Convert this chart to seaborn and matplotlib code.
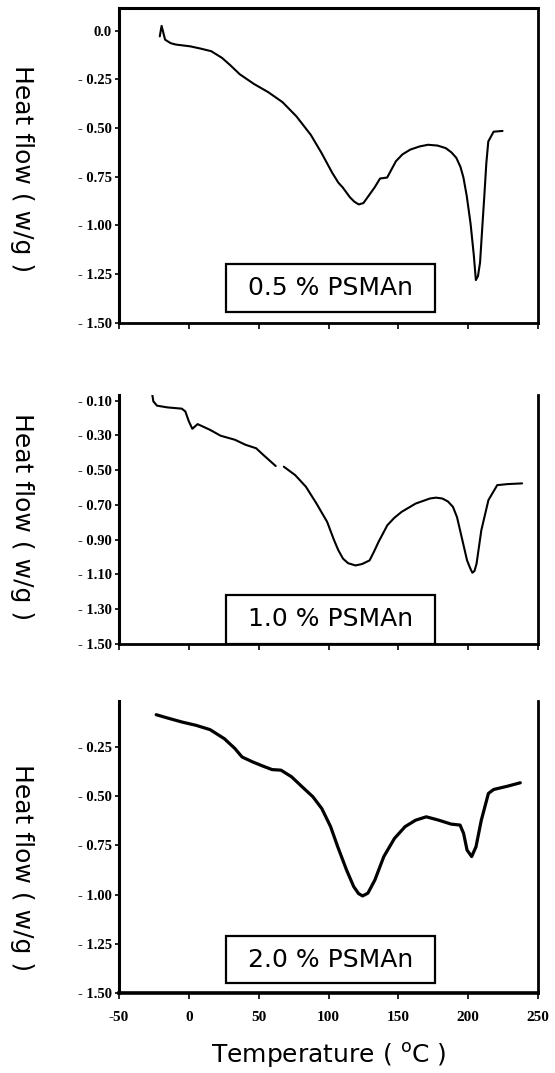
import numpy as np
import pandas as pd
import matplotlib
matplotlib.use("Agg")
import matplotlib.pyplot as plt
from matplotlib.patches import Rectangle
import seaborn as sns

# ---------------- data ----------------
t05 = [-20.8, -19.5, -17.0, -13.0, -9.3, 0.9, 8.0, 16.0, 23.7, 30.0, 36.4, 46.6, 56.8, 67.0, 77.0,
       87.3, 95.0, 102.6, 107.0, 110.2, 115.3, 118.5, 121.6, 125.0, 128.0, 133.0, 136.9, 142.0,
       148.3, 153.0, 158.5, 165.0, 171.2, 178.0, 183.9, 188.0, 191.5, 194.5, 196.6, 199.0, 201.7,
       204.0, 205.5, 207.0, 208.5, 210.0, 211.5, 213.0, 214.4, 218.2, 224.6]
h05 = [-0.03, 0.024, -0.047, -0.065, -0.072, -0.081, -0.092, -0.106, -0.14, -0.18, -0.224,
       -0.274, -0.316, -0.367, -0.44, -0.535, -0.628, -0.729, -0.78, -0.805, -0.855, -0.878,
       -0.892, -0.885, -0.855, -0.805, -0.759, -0.754, -0.67, -0.635, -0.611, -0.595, -0.586,
       -0.59, -0.603, -0.625, -0.653, -0.7, -0.754, -0.85, -0.99, -1.15, -1.28, -1.26, -1.19,
       -1.02, -0.855, -0.68, -0.569, -0.519, -0.515]

t10_a = [-26.1, -25.4, -22.8, -15.2, -5.1, -2.5, 0.0, 2.5, 6.3, 15.2, 22.8, 33.0, 40.6, 48.2,
         53.3, 62.2]
h10_a = [-0.069, -0.104, -0.129, -0.139, -0.146, -0.162, -0.219, -0.262, -0.235, -0.268,
         -0.302, -0.325, -0.354, -0.374, -0.412, -0.476]
t10_b = [68.0, 76.1, 83.8, 91.4, 99.0, 104.0, 107.0, 110.4, 114.0, 119.3, 124.0, 129.4, 132.5,
         135.8, 142.1, 147.0, 152.3, 162.4, 172.6, 177.0, 181.5, 185.5, 189.1, 192.0, 194.2,
         199.2, 201.5, 203.0, 204.5, 206.0, 209.4, 214.5, 220.8, 228.4, 238.6]
h10_b = [-0.48, -0.528, -0.595, -0.692, -0.797, -0.903, -0.96, -1.009, -1.035, -1.048, -1.04,
         -1.019, -0.97, -0.913, -0.817, -0.775, -0.74, -0.692, -0.663, -0.658, -0.663, -0.68,
         -0.711, -0.77, -0.846, -1.019, -1.065, -1.09, -1.08, -1.038, -0.846, -0.672, -0.586,
         -0.58, -0.576]

t20 = [-23.4, -15.2, -5.1, 5.1, 15.2, 25.4, 33.0, 38.1, 45.7, 53.3, 59.6, 66.0, 73.6, 81.2,
       88.8, 95.2, 101.5, 106.6, 112.9, 118.0, 121.5, 124.4, 128.2, 133.2, 139.6, 147.2, 154.8,
       162.4, 170.0, 178.9, 187.8, 194.2, 196.7, 199.2, 202.5, 205.6, 209.4, 214.5, 218.3,
       228.4, 237.3]
h20 = [-0.086, -0.103, -0.123, -0.14, -0.162, -0.208, -0.258, -0.301, -0.326, -0.348, -0.365,
       -0.368, -0.402, -0.453, -0.503, -0.563, -0.655, -0.757, -0.875, -0.959, -0.995, -1.007,
       -0.993, -0.926, -0.807, -0.715, -0.655, -0.622, -0.605, -0.622, -0.642, -0.647, -0.689,
       -0.774, -0.807, -0.757, -0.622, -0.486, -0.466, -0.449, -0.432]

sample_labels = ["0.5 % PSMAn", "1.0 % PSMAn", "2.0 % PSMAn"]

x_ticks = [-50, 0, 50, 100, 150, 200, 250]
x_tick_labels = ["-50", "0", "50", "100", "150", "200", "250"]

y1_ticks = [0.0, -0.25, -0.50, -0.75, -1.00, -1.25, -1.50]
y1_labels = ["0.0", "- 0.25", "- 0.50", "- 0.75", "- 1.00", "- 1.25", "- 1.50"]
y2_ticks = [-0.10, -0.30, -0.50, -0.70, -0.90, -1.10, -1.30, -1.50]
y2_labels = ["- 0.10", "- 0.30", "- 0.50", "- 0.70", "- 0.90", "- 1.10", "- 1.30", "- 1.50"]
y3_ticks = [-0.25, -0.50, -0.75, -1.00, -1.25, -1.50]
y3_labels = ["- 0.25", "- 0.50", "- 0.75", "- 1.00", "- 1.25", "- 1.50"]

# ---------------- figure ----------------
sns.set_style("ticks")
plt.rcParams["font.family"] = ["DejaVu Sans"]
plt.rcParams["text.color"] = "black"
plt.rcParams["axes.labelcolor"] = "black"

fig = plt.figure(figsize=(5.55, 10.73), dpi=100)
left, width = 0.2144, 0.755
ax1 = fig.add_axes([left, 0.699, width, 0.294])
ax2 = fig.add_axes([left, 0.3998, width, 0.232])
ax3 = fig.add_axes([left, 0.0746, width, 0.272])

df1 = pd.DataFrame({"T": t05, "H": h05, "seg": 0})
df2 = pd.concat([pd.DataFrame({"T": t10_a, "H": h10_a, "seg": 0}),
                 pd.DataFrame({"T": t10_b, "H": h10_b, "seg": 1})], ignore_index=True)
df3 = pd.DataFrame({"T": t20, "H": h20, "seg": 0})

tick_font = dict(family="Liberation Serif", weight="bold", size=10.5)

panels = [
    (ax1, df1, (-1.5, 0.118), y1_ticks, y1_labels, sample_labels[0], 1.5, (0.035, 0.187), 0.11, 0.49),
    (ax2, df2, (-1.5, -0.068), y2_ticks, y2_labels, sample_labels[1], 1.5, (0.0, 0.197), 0.10, 0.51),
    (ax3, df3, (-1.5, -0.017), y3_ticks, y3_labels, sample_labels[2], 2.3, (0.034, 0.194), 0.114, 0.428),
]

for i, (ax, df, ylim, yt, ytl, lab, lw, (by0, by1), ty, ly) in enumerate(panels):
    sns.lineplot(data=df, x="T", y="H", units="seg", estimator=None, sort=False,
                 color="black", linewidth=lw, ax=ax)
    ax.set_xlim(-50, 250)
    ax.set_ylim(*ylim)
    ax.set_yticks(yt)
    ax.set_yticklabels(ytl, fontdict=tick_font)
    ax.set_xticks(x_ticks)
    if i == 2:
        ax.set_xticklabels(x_tick_labels, fontdict=dict(family="Liberation Serif", weight="bold", size=11))
    else:
        ax.set_xticklabels([])
    ax.tick_params(axis="y", direction="out", length=3, width=1.2, pad=2, colors="black")
    ax.tick_params(axis="x", direction="out", length=4, width=1.2, pad=9, colors="black")
    for s in ["left", "right", "bottom", "top"]:
        ax.spines[s].set_color("black")
    ax.spines["left"].set_linewidth(2.2)
    ax.spines["right"].set_linewidth(2.0)
    ax.spines["bottom"].set_linewidth(2.6 if i == 2 else 2.0)
    if i == 0:
        ax.spines["top"].set_linewidth(2.2)
        ax.spines["top"].set_visible(True)
    else:
        ax.spines["top"].set_visible(False)

    ax.add_patch(Rectangle((0.256, by0), 0.497, by1 - by0, transform=ax.transAxes,
                           facecolor="white", edgecolor="black", linewidth=1.6, zorder=5))
    ax.text(0.505, ty, lab, transform=ax.transAxes, ha="center", va="center",
            fontsize=18, color="black", zorder=6)

    ax.set_ylabel("Heat flow ( w/g )", fontsize=18, rotation=270, va="center", ha="center",
                  color="black")
    ax.yaxis.set_label_coords(-0.2315, ly)
    ax.set_xlabel("")
    ax.grid(False)

ax3.set_xlabel("Temperature ( $^{\\mathrm{o}}$C )", fontsize=18, labelpad=12, color="black")

fig.savefig("out.png", dpi=100)
